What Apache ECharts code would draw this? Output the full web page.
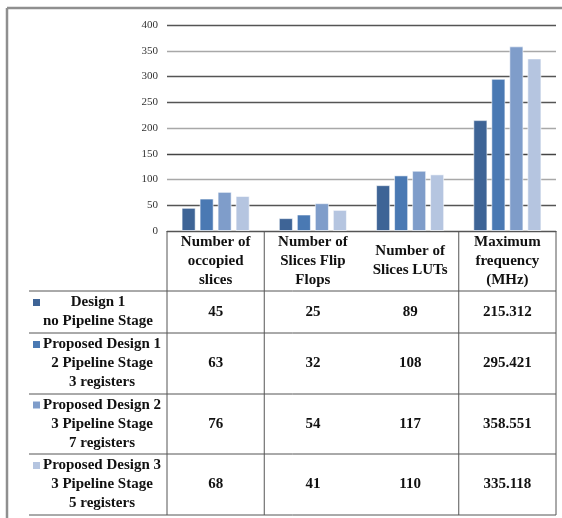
<!DOCTYPE html>
<html>
<head>
<meta charset="utf-8">
<script src="https://cdn.jsdelivr.net/npm/echarts@6/dist/echarts.min.js"></script>
<style>
  html, body { margin: 0; padding: 0; background: #fff; }
  #chart { width: 562px; height: 518px; }
</style>
</head>
<body>
<div id="chart"></div>
<script>
const categories = ['Number of\noccopied\nslices', 'Number of\nSlices Flip\nFlops', 'Number of\nSlices LUTs', 'Maximum\nfrequency\n(MHz)'];
const seriesNames = [
    'Design 1\nno Pipeline Stage',
    'Proposed Design 1\n2 Pipeline Stage\n3 registers',
    'Proposed Design 2\n3 Pipeline Stage\n7 registers',
    'Proposed Design 3\n3 Pipeline Stage\n5 registers'
];
const design1 = [45, 25, 89, 215.312];
const proposed1 = [63, 32, 108, 295.421];
const proposed2 = [76, 54, 117, 358.551];
const proposed3 = [68, 41, 110, 335.118];
const yMax = 400;
const yStep = 50;

const seriesData = [design1, proposed1, proposed2, proposed3];
const colorArr = ['#3e6496', '#4a79b3', '#7f9dca', '#b5c5e0'];
const serif = '"Liberation Serif", "Times New Roman", serif';
const lineColor = '#555';

const myChart = echarts.init(document.getElementById('chart'), null, { renderer: 'canvas' });

myChart.setOption({
    animation: false,
    backgroundColor: '#fff',
    color: colorArr,
    grid: { left: 167, right: 6, top: 25, bottom: 287 },
    xAxis: {
        type: 'category',
        data: categories,
        axisLine: { show: true, lineStyle: { color: lineColor, width: 1 } },
        axisTick: { show: false },
        splitLine: { show: false },
        axisLabel: {
            interval: 0,
            margin: 30,
            verticalAlign: 'middle',
            fontFamily: serif,
            fontWeight: 'bold',
            fontSize: 15,
            lineHeight: 19,
            color: '#111'
        }
    },
    yAxis: {
        type: 'value',
        min: 0,
        max: yMax,
        interval: yStep,
        axisLine: { show: false },
        axisTick: { show: false },
        axisLabel: { margin: 9, fontFamily: serif, fontSize: 11, color: '#333' },
        splitLine: {
            show: true,
            lineStyle: {
                color: ['#555', '#555', '#a8a8a8', '#444', '#a8a8a8', '#555', '#555', '#a8a8a8', '#555'],
                width: 1.3
            }
        }
    },
    series: seriesData.map(function (d, i) {
        return {
            name: seriesNames[i],
            type: 'bar',
            data: d,
            barGap: '28%',
            barCategoryGap: '30%',
            itemStyle: { borderColor: 'rgba(255,255,255,0.55)', borderWidth: 1 }
        };
    })
});

// table below the plot, placed from the category axis positions
function drawTable() {
    const colX = categories.map(function (c, i) {
        return myChart.convertToPixel({ xAxisIndex: 0 }, i);
    });
    const step = colX[1] - colX[0];
    const left = colX[0] - step / 2;
    const right = colX[colX.length - 1] + step / 2;
    const top = myChart.convertToPixel({ yAxisIndex: 0 }, 0);
    const rowEdges = [top, 291, 333, 394, 454, 515];
    const labelLeft = 29;
    const labelCenter = [98, 102, 102, 102];
    const lh = 19;
    const els = [];

    // outer frame
    els.push({ type: 'line', shape: { x1: 7, y1: 8, x2: 562, y2: 8 }, style: { stroke: '#8f8f8f', lineWidth: 2.5 } });
    els.push({ type: 'line', shape: { x1: 7, y1: 8, x2: 7, y2: 518 }, style: { stroke: '#8f8f8f', lineWidth: 2.5 } });

    // horizontal rules
    for (let r = 1; r < rowEdges.length; r++) {
        els.push({ type: 'line', shape: { x1: labelLeft, y1: rowEdges[r], x2: right, y2: rowEdges[r] },
            style: { stroke: lineColor, lineWidth: 1 } });
    }
    // vertical rules (the one between the 2nd and 3rd column is missing in the original)
    const vx = [left, colX[0] + step / 2, colX[2] + step / 2, right];
    vx.forEach(function (x) {
        els.push({ type: 'line', shape: { x1: x, y1: top, x2: x, y2: rowEdges[rowEdges.length - 1] },
            style: { stroke: lineColor, lineWidth: 1 } });
    });

    for (let s = 0; s < seriesData.length; s++) {
        const yc = (rowEdges[s + 1] + rowEdges[s + 2]) / 2;
        const nLines = seriesNames[s].split('\n').length;
        const firstLine = yc - (nLines - 1) * lh / 2;
        els.push({ type: 'rect', shape: { x: 33, y: firstLine - 3.5, width: 7, height: 7 },
            style: { fill: colorArr[s] } });
        els.push({ type: 'text', x: labelCenter[s], y: yc,
            style: { text: seriesNames[s], fontFamily: serif, fontWeight: 'bold', fontSize: 15, lineHeight: lh,
                fill: '#111', align: 'center', verticalAlign: 'middle' } });
        for (let c = 0; c < categories.length; c++) {
            els.push({ type: 'text', x: colX[c], y: yc,
                style: { text: String(seriesData[s][c]), fontFamily: serif, fontWeight: 'bold', fontSize: 15,
                    fill: '#111', align: 'center', verticalAlign: 'middle' } });
        }
    }

    myChart.setOption({ graphic: { elements: els } });
}

drawTable();
</script>
</body>
</html>
